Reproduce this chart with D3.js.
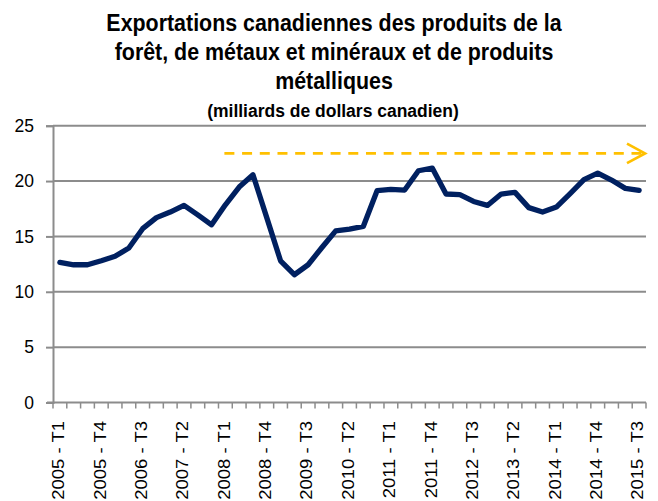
<!DOCTYPE html>
<html><head><meta charset="utf-8">
<script src="https://cdn.jsdelivr.net/npm/d3@7"></script>
<style>
html,body{margin:0;padding:0;background:#fff;}
svg{display:block;font-family:"Liberation Sans",Arial,sans-serif;}
</style></head>
<body><svg id="c" width="658" height="501"></svg>
<script>
const titleLines = ["Exportations canadiennes des produits de la","forêt, de métaux et minéraux et de produits","métalliques"];
const subtitle = "(milliards de dollars canadien)";
const years = [2005,2006,2007,2008,2009,2010,2011,2012,2013,2014,2015];
const quarters = ["T1","T2","T3","T4"];
const categories = [];
years.forEach(y => quarters.forEach(q => { if (!(y===2015 && q==="T4")) categories.push(y + " - " + q); }));
const values = [12.65,12.44,12.44,12.8,13.2,13.95,15.7,16.7,17.2,17.8,16.95,16.05,17.86,19.46,20.57,16.7,12.8,11.54,12.44,14.0,15.5,15.66,15.9,19.13,19.25,19.19,20.93,21.17,18.83,18.77,18.16,17.8,18.83,18.98,17.6,17.2,17.65,18.86,20.12,20.72,20.09,19.34,19.16];
const yTicks = [0,5,10,15,20,25];
const trendStart = "2008 - T1";
const trendLevel = 22.5;

const svg = d3.select("#c");
const L = 53, R = 646, T = 125.7, B = 402.5;
const x = d3.scaleBand().domain(categories).range([L, R]).padding(0);
const y = d3.scaleLinear().domain([0, 25]).range([B, T]);
const grid = "#8c8c8c";

// title
const baselines = [31, 60, 89];
titleLines.forEach((t,i) => svg.append("text")
  .attr("transform",`translate(334,${baselines[i]}) scale(1,1.09)`)
  .attr("text-anchor","middle").attr("font-weight","bold").attr("font-size",21.4).attr("fill","#000").text(t));
svg.append("text").attr("transform","translate(333,117) scale(1,1.07)")
  .attr("text-anchor","middle").attr("font-weight","bold").attr("font-size",17.5).text(subtitle);

// gridlines
svg.append("g").selectAll("line").data(yTicks.filter(d=>d>0)).join("line")
  .attr("x1",L).attr("x2",R).attr("y1",d=>y(d)).attr("y2",d=>y(d))
  .attr("stroke",grid).attr("stroke-width",2);

// y axis
const ya = svg.append("g").attr("transform",`translate(${L},0)`).call(d3.axisLeft(y).tickValues(yTicks).tickSize(7).tickPadding(12).tickFormat(d3.format("d")));
ya.select(".domain").attr("stroke",grid).attr("stroke-width",2);
ya.selectAll(".tick line").attr("stroke",grid).attr("stroke-width",2);
ya.selectAll(".tick text").attr("font-size",17.5).attr("fill","#000").attr("font-family","Liberation Sans, Arial, sans-serif");

// x axis: ticks at band boundaries
const xa = svg.append("g").attr("transform",`translate(0,${B})`);
xa.append("line").attr("x1",L-6).attr("x2",R).attr("stroke",grid).attr("stroke-width",2);
const bounds = categories.map(c => x(c)).concat([R]);
xa.selectAll("line.tk").data(bounds).join("line").attr("class","tk")
  .attr("x1",d=>d).attr("x2",d=>d).attr("y1",0).attr("y2",6).attr("stroke",grid).attr("stroke-width",1.5);
xa.selectAll("text").data(categories.filter((c,i)=>i%3===0)).join("text")
  .attr("transform",d=>`translate(${x(d)+x.bandwidth()/2-1.5},18.5) rotate(-90) scale(1.12,1)`)
  .attr("text-anchor","end").attr("dy","0.35em").attr("font-size",16.5).attr("fill","#000").text(d=>d);

// series line
const line = d3.line().x((d,i)=>x(categories[i])+x.bandwidth()/2).y(d=>y(d));
svg.append("path").datum(values).attr("d",line).attr("fill","none")
  .attr("stroke","#002060").attr("stroke-width",5.3).attr("stroke-linejoin","round").attr("stroke-linecap","round");

// trend dashed arrow
const ax0 = x(trendStart) + x.bandwidth()/2 - 1, ax1 = R - 1, ay = y(trendLevel);
svg.append("line").attr("x1",ax0).attr("x2",ax1).attr("y1",ay).attr("y2",ay)
  .attr("stroke","#FFC000").attr("stroke-width",2.7).attr("stroke-dasharray","10,7.7");
svg.append("path").attr("d",`M${ax1-18},${ay-9.7}L${ax1},${ay}L${ax1-18},${ay+9.7}`)
  .attr("fill","none").attr("stroke","#FFC000").attr("stroke-width",2.7);
</script></body></html>
